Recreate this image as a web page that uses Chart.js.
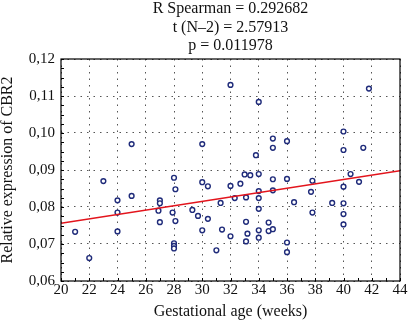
<!DOCTYPE html>
<html>
<head>
<meta charset="utf-8">
<script src="https://cdn.jsdelivr.net/npm/chart.js@4"></script>
<style>
  html, body { margin: 0; padding: 0; background: #fff; }
  #wrap { width: 410px; height: 328px; }
</style>
</head>
<body>
<div id="wrap"><canvas id="cbrChart"></canvas></div>
<script>
// gestational age (weeks) and relative CBR2 expression
const weeks = [21, 22, 23, 24, 24, 24, 25, 25, 27, 27, 26.9, 27, 28, 28.1, 27.9, 28.1, 28, 28, 28,
  30, 30, 30.4, 29.3, 29.7, 30.4, 30, 31.4, 31, 31.3, 32, 32, 32, 32.3, 32.7, 33, 33.4, 33.1, 33.1,
  33.2, 33.1, 33.8, 34, 34, 34, 34, 34, 34, 34, 34.7, 34.7, 35, 35, 35, 35, 35, 36, 36, 36.5, 36,
  36, 37.8, 37.7, 37.8, 39.2, 40, 40, 40, 40, 40, 40, 40.5, 41.1, 41.4, 41.8];
const cbr2 = [0.0733, 0.0662, 0.087, 0.0818, 0.0785, 0.0734, 0.097, 0.083, 0.0818, 0.081, 0.079, 0.0759,
  0.0879, 0.0848, 0.0785, 0.0762, 0.0702, 0.0695, 0.0688, 0.097, 0.0867, 0.0856, 0.0792, 0.0776, 0.0768,
  0.0737, 0.0739, 0.0683, 0.0811, 0.113, 0.0857, 0.0721, 0.0824, 0.0863, 0.0888, 0.0886, 0.0826, 0.076,
  0.0728, 0.0707, 0.094, 0.1084, 0.0889, 0.0843, 0.0824, 0.0795, 0.0737, 0.0717, 0.0758, 0.0735, 0.074,
  0.0985, 0.096, 0.0875, 0.0845, 0.0978, 0.0876, 0.0813, 0.0704, 0.0678, 0.0871, 0.0841, 0.0785, 0.0811,
  0.1004, 0.0954, 0.0855, 0.081, 0.0781, 0.0753, 0.0889, 0.0868, 0.096, 0.112];

// regression line end points
const fitWeeks = [20, 44];
const fitValues = [0.0756, 0.0898];

const titleLines = ['R Spearman = 0.292682', 't (N\u20132) = 2.57913', 'p = 0.011978'];

const serif = '"Liberation Serif", "Times New Roman", serif';

// frame, inward ticks and the stats text over the plot
const framePlugin = {
  id: 'frame',
  afterDraw(chart) {
    const { ctx, chartArea: a, scales: { x, y } } = chart;
    ctx.save();
    ctx.strokeStyle = '#000';
    ctx.lineWidth = 1;
    ctx.beginPath();
    for (let w = 20; w <= 44; w++) {
      const px = Math.round(x.getPixelForValue(w)) + 0.5;
      ctx.moveTo(px, a.bottom);
      ctx.lineTo(px, a.bottom - 3);
    }
    for (let i = 0; i <= 24; i++) {
      const py = Math.round(y.getPixelForValue(0.06 + i * 0.0025)) + 0.5;
      ctx.moveTo(a.left, py);
      ctx.lineTo(a.left + 3, py);
    }
    ctx.stroke();
    ctx.lineWidth = 1.2;
    ctx.strokeRect(a.left, a.top, a.right - a.left, a.bottom - a.top);

    ctx.fillStyle = '#111';
    ctx.font = '16px ' + serif;
    ctx.textAlign = 'center';
    ctx.textBaseline = 'alphabetic';
    const cx = (a.left + a.right) / 2;
    [12.5, 31.5, 50.3].forEach((by, i) => ctx.fillText(titleLines[i], cx, by));
    ctx.restore();
  }
};

new Chart(document.getElementById('cbrChart'), {
  type: 'scatter',
  data: {
    datasets: [{
      type: 'line',
      data: fitWeeks.map((w, i) => ({ x: w, y: fitValues[i] })),
      borderColor: '#e3141c',
      borderWidth: 1.5,
      pointRadius: 0,
      order: 0
    }, {
      data: weeks.map((w, i) => ({ x: w, y: cbr2[i] })),
      borderColor: '#1f2b7a',
      backgroundColor: '#fff',
      borderWidth: 1.4,
      pointRadius: 2.4,
      order: 1
    }]
  },
  options: {
    responsive: true,
    maintainAspectRatio: false,
    animation: false,
    layout: { padding: { top: 59, right: 10, left: 0, bottom: 0 } },
    plugins: { legend: { display: false }, tooltip: { enabled: false } },
    scales: {
      x: {
        type: 'linear',
        min: 20,
        max: 44,
        afterFit: s => { s.height = 47; },
        ticks: { stepSize: 2, padding: 0, color: '#111', font: { family: serif, size: 15 } },
        grid: { color: '#555', lineWidth: 1, drawTicks: false },
        border: { display: false, dash: [1.5, 5] },
        title: {
          display: true,
          text: 'Gestational age (weeks)',
          color: '#111',
          font: { family: serif, size: 16 },
          padding: { top: 0, bottom: 7 }
        }
      },
      y: {
        min: 0.06,
        max: 0.12,
        afterFit: s => { s.width = 61; },
        ticks: {
          stepSize: 0.01,
          padding: 6,
          color: '#111',
          font: { family: serif, size: 15 },
          callback: v => v.toFixed(2).replace('.', ',')
        },
        grid: { color: '#555', lineWidth: 1, drawTicks: false },
        border: { display: false, dash: [1.5, 5] },
        title: {
          display: true,
          text: 'Relative expression of CBR2',
          color: '#111',
          font: { family: serif, size: 16, lineHeight: 1 },
          padding: { top: 0, bottom: 0 }
        }
      }
    }
  },
  plugins: [framePlugin]
});
</script>
</body>
</html>
